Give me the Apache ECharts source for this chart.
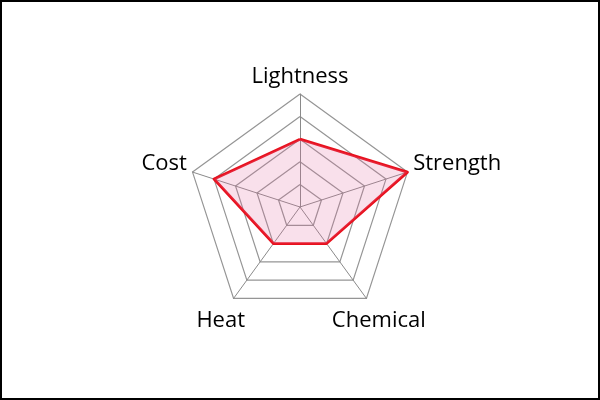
<!DOCTYPE html>
<html>
<head>
<meta charset="utf-8">
<script src="https://cdn.jsdelivr.net/npm/echarts@6/dist/echarts.min.js"></script>
<style>
html,body{margin:0;padding:0;background:#fff;}
#chart{position:absolute;left:0;top:0;width:600px;height:400px;}
#frame{position:absolute;left:0;top:0;width:600px;height:400px;box-sizing:border-box;border:2px solid #000;pointer-events:none;}
</style>
</head>
<body>
<div id="chart"></div>
<div id="frame"></div>
<script>
// Radar axes listed counter-clockwise from the top (ECharts order)
const indicators = ['Lightness', 'Cost', 'Heat', 'Chemical', 'Strength'];
const maxValues = [5, 5, 5, 5, 5];
const values = [3, 4, 2, 2, 5];

const nameLayout = {
  Lightness: {gap: 6, align: 'center', vAlign: 'bottom', lh: 22, pad: [0, 0, 0, 0]},
  Cost: {gap: 6, align: 'right', vAlign: 'bottom', lh: 13, pad: [0, 0, 0, 0]},
  Heat: {gap: 27, align: 'center', vAlign: 'middle', lh: 22, pad: [0, 0, 0, 6]},
  Chemical: {gap: 27, align: 'center', vAlign: 'middle', lh: 22, pad: [0, 7, 0, 0]},
  Strength: {gap: 6, align: 'left', vAlign: 'bottom', lh: 13, pad: [0, 0, 0, 0]}
};

const chart = echarts.init(document.getElementById('chart'), null, {renderer: 'canvas'});
chart.setOption({
  animation: false,
  radar: {
    center: [300, 207],
    radius: 113,
    startAngle: 90,
    splitNumber: 5,
    shape: 'polygon',
    indicator: indicators.map((n, i) => ({
      name: n, max: maxValues[i], min: 0,
      nameGap: nameLayout[n].gap,
      nameTextStyle: {
        align: nameLayout[n].align,
        verticalAlign: nameLayout[n].vAlign,
        lineHeight: nameLayout[n].lh,
        padding: nameLayout[n].pad
      }
    })),
    axisName: {color: '#000', fontSize: 22, fontFamily: 'Open Sans'},
    nameGap: 6,
    axisLine: {lineStyle: {color: '#8a8a8a', width: 1}},
    splitLine: {lineStyle: {color: '#959595', width: 1.2}},
    splitArea: {show: false}
  },
  series: [{
    type: 'radar',
    symbol: 'none',
    data: [{
      value: values,
      lineStyle: {color: '#e8101c', width: 2.8},
      areaStyle: {color: 'rgba(228,110,160,0.3)'}
    }]
  }]
});
</script>
</body>
</html>
